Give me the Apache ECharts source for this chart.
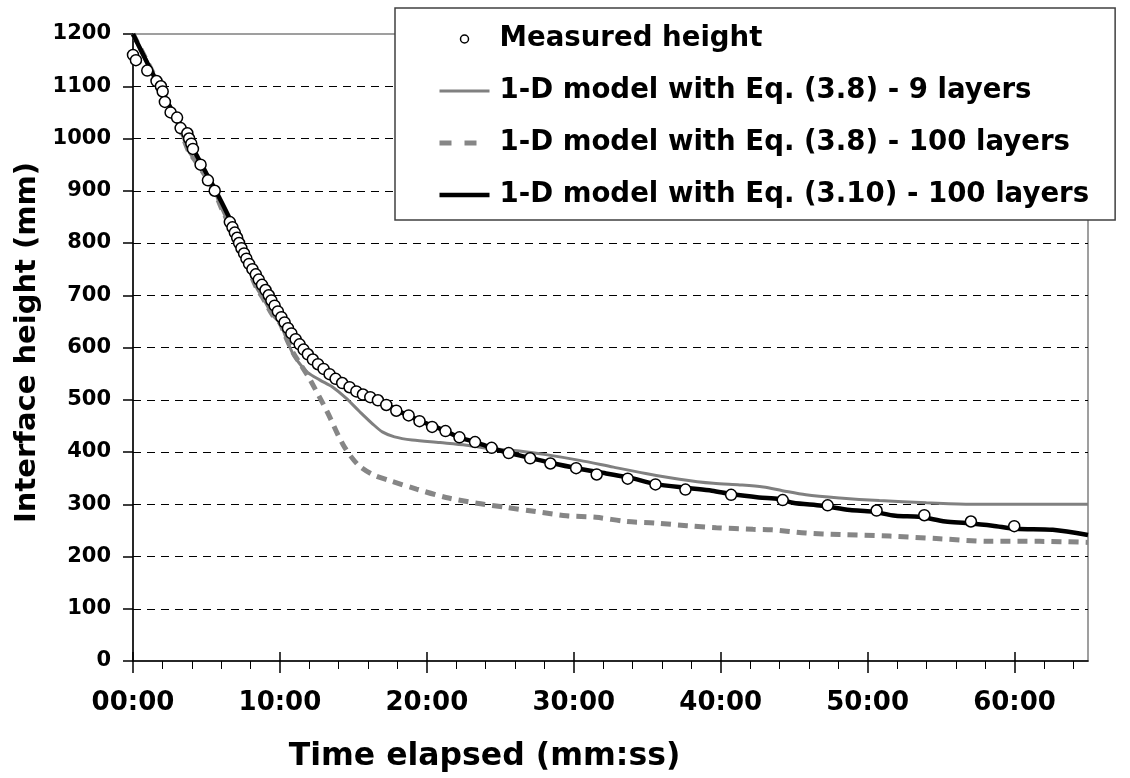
<!DOCTYPE html>
<html><head><meta charset="utf-8">
<script src="https://cdn.jsdelivr.net/npm/echarts@6/dist/echarts.min.js"></script>
<style>html,body{margin:0;padding:0;background:#fff}#c{width:1130px;height:778px}</style>
</head><body><div id="c"></div>
<script>
// ---- data (time in minutes, height in mm) ----
const seriesNames = [
  'Measured height',
  '1-D model with Eq. (3.8) - 9 layers',
  '1-D model with Eq. (3.8) - 100 layers',
  '1-D model with Eq. (3.10) - 100 layers'
];
const measuredTime = [0.00,0.20,0.97,1.60,1.90,2.02,2.17,2.56,3.00,3.24,3.70,3.82,3.97,4.08,4.60,5.10,5.56,
  6.59,6.77,6.93,7.09,7.22,7.38,7.56,7.72,7.90,8.13,8.36,8.56,8.78,9.02,9.24,
  9.42,9.64,9.86,10.10,10.32,10.55,10.78,11.07,11.34,11.61,11.90,12.24,12.59,12.97,13.38,13.79,14.24,14.74,15.20,15.65,16.15,16.67,17.24,17.92,
  18.76,19.50,20.36,21.27,22.22,23.28,24.41,25.57,27.03,28.41,30.16,31.56,33.67,35.56,37.60,40.71,44.22,47.28,50.61,53.86,57.03,59.98];
const measuredHeight = [1160,1150,1130,1110,1100,1090,1070,1050,1040,1020,1010,1000,990,980,950,920,900,
  840,830,820,810,800,790,780,770,760,750,740,730,720,710,700,
  690,680,669,658,648,637,627,616,606,596,587,577,568,559,549,540,532,524,516,510,505,499,490,479,
  470,459,448,440,428,419,408,398,388,378,369,357,349,338,328,318,308,298,288,279,267,258];

const model9Time = [0,2,3.3,3.8,4.3,5.0,5.6,6.0,6.8,7.5,8.4,8.9,9.5,10.0,10.4,10.9,11.4,11.9,12.7,13.6,14.5,15.4,16.3,17.0,17.8,19.0,20.9,22.7,24.5,26.3,28.1,30.4,32.7,34.9,37.2,39.5,41.3,42.9,44.2,45.8,48.1,50.8,54.0,57.1,60,65];
const model9Height = [1200,1090,1010,975,955,925,895,868,820,775,715,692,662,647,620,587,567,552,538,524,503,478,454,438,429,423,418,413,406,402,395,384,371,359,348,340,337,333,326,318,312,307,303,300,300,300];

const model100Time = [0,2,3.3,3.8,4.3,5.0,5.6,6.0,6.8,7.5,8.4,8.9,9.5,10.0,10.4,10.9,11.4,12.0,13.2,14.3,15.3,16.3,17.5,19.3,21.3,23.4,25.4,27.4,29.5,31.5,33.6,35.6,37.7,39.7,42.2,43.5,45.8,48.1,51.5,54.9,58.3,61.7,65];
const model100Height = [1200,1090,1010,975,955,925,895,868,820,775,715,692,662,647,620,590,568,541,478,414,376,357,345,329,313,302,294,286,278,275,267,264,259,255,252,251,245,242,239,234,229,229,227];

const model310Time = [0,1,2,3,4,5,5.6,6.6,7.3,8.0,8.8,9.4,10.0,10.6,11.2,11.8,12.5,13.3,14.2,15.0,15.9,16.7,17.9,19.5,21.3,22.2,23.3,24.4,25.6,27.0,28.5,30.2,32.2,33.8,35.5,37.8,39.4,40.8,42.6,44.0,44.9,46.9,48.8,50.3,51.9,53.5,55.3,56.7,58.5,60.1,62.6,65];
const model310Height = [1200,1143,1088,1036,985,933,902,846,804,764,720,692,664,638,613,592,570,548,530,518,508,500,481,460,440,428,419,408,398,389,379,369,359,351,339,331,326,319,313,310,303,297,289,286,278,276,267,264,259,253,251,241];

const xMajorTicks = [0,10,20,30,40,50,60];
const xMinorTicks = [2,4,6,8,12,14,16,18,22,24,26,28,32,34,36,38,42,44,46,48,52,54,56,58,62,64];

// ---- chart ----
function zip(a,b){return a.map((v,i)=>[v,b[i]]);}
const FONT = 'DejaVu Sans';
const fmtTime = v => (v < 10 ? '0' : '') + v + ':00';
const chart = echarts.init(document.getElementById('c'));
const xBase = {type:'value', min:0, max:65, position:'bottom', splitLine:{show:false}};
const noDot = {color:'rgba(0,0,0,0)', borderWidth:0, opacity:0};
const option = {
  animation:false,
  backgroundColor:'#fff',
  grid:{left:133,right:42,top:34,bottom:113,show:true,borderColor:'#808080',borderWidth:1.5,backgroundColor:'#fff'},
  legend:{
    orient:'vertical', left:395, top:8, padding:[16,26,10,42],
    itemWidth:50, itemHeight:8, itemGap:22,
    backgroundColor:'#fff', borderColor:'#404040', borderWidth:1.5,
    textStyle:{fontFamily:FONT,fontWeight:'bold',fontSize:27.6,color:'#000',lineHeight:30,padding:[0,0,0,5]},
    data:[
      {name:seriesNames[0],icon:'circle',itemStyle:{color:'#fff',borderColor:'#000',borderWidth:1.5,opacity:1}},
      {name:seriesNames[1],itemStyle:noDot,lineStyle:{color:'#808080',width:3,type:'solid'}},
      {name:seriesNames[2],itemStyle:noDot,lineStyle:{color:'#868686',width:5,type:[12,13]}},
      {name:seriesNames[3],itemStyle:noDot,lineStyle:{color:'#000',width:4.5,type:'solid'}}
    ]
  },
  xAxis:[
    Object.assign({}, xBase, {
      interval:10,
      name:'Time elapsed (mm:ss)', nameLocation:'middle', nameGap:80,
      nameTextStyle:{fontFamily:FONT,fontWeight:'bold',fontSize:31.5,color:'#000',padding:[0,252,0,0]},
      axisLine:{show:true,onZero:false,lineStyle:{color:'#000',width:1.5}},
      axisTick:{show:true,customValues:xMajorTicks,length:12,lineStyle:{color:'#000',width:1.5}},
      axisLabel:{customValues:xMajorTicks,formatter:fmtTime,margin:29,fontFamily:FONT,fontWeight:'bold',fontSize:26,color:'#000'}
    }),
    Object.assign({}, xBase, {
      interval:10,
      axisLine:{show:false},
      axisTick:{show:true,inside:true,customValues:xMajorTicks,length:9,lineStyle:{color:'#000',width:1.5}},
      axisLabel:{show:false}
    }),
    Object.assign({}, xBase, {
      interval:2,
      axisLine:{show:false},
      axisTick:{show:true,customValues:xMinorTicks,length:8,lineStyle:{color:'#000',width:1}},
      axisLabel:{show:false}
    })
  ],
  yAxis:{
    type:'value', min:0, max:1200, interval:100,
    name:'Interface height (mm)', nameLocation:'middle', nameGap:84, nameRotate:90,
    nameTextStyle:{fontFamily:FONT,fontWeight:'bold',fontSize:29,color:'#000',padding:[0,0,0,10]},
    axisLine:{show:true,lineStyle:{color:'#000',width:1.5}},
    axisTick:{show:true,length:10,lineStyle:{color:'#000',width:1.5}},
    axisLabel:{margin:22,formatter:v => String(v),fontFamily:FONT,fontWeight:'bold',fontSize:21,color:'#000',padding:[4,0,0,0]},
    splitLine:{show:true,showMinLine:false,showMaxLine:false,lineStyle:{color:'#000',width:1,type:[8,6]}}
  },
  series:[
    {name:seriesNames[0],type:'scatter',data:zip(measuredTime,measuredHeight),symbol:'circle',symbolSize:11,
     itemStyle:{color:'#fff',borderColor:'#000',borderWidth:1.5,opacity:1},z:6},
    {name:seriesNames[1],type:'line',data:zip(model9Time,model9Height),smooth:0.3,symbol:'none',
     lineStyle:{color:'#808080',width:3},itemStyle:{color:'#808080'},z:2},
    {name:seriesNames[2],type:'line',data:zip(model100Time,model100Height),smooth:0.3,symbol:'none',
     lineStyle:{color:'#868686',width:5,type:[10,7]},itemStyle:{color:'#868686'},z:3},
    {name:seriesNames[3],type:'line',data:zip(model310Time,model310Height),smooth:0.3,symbol:'none',
     lineStyle:{color:'#000',width:4.5},itemStyle:{color:'#000'},z:4}
  ]
};
chart.setOption(option);
</script>
</body></html>
